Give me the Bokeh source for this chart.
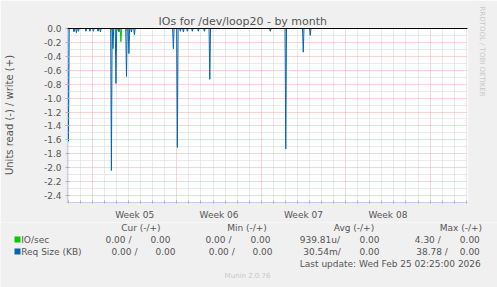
from bokeh.plotting import figure
from bokeh.models import Range1d, FixedTicker, Span, PrintfTickFormatter, Title
from bokeh.layouts import column
from bokeh.core.properties import value
from bokeh.embed import file_html
from bokeh.resources import INLINE

# ---------------- data ----------------
# x = days since Sun 2026-01-25 00:00
x_start, x_end = -2.07, 31.10
week_starts = [0, 7, 14, 21, 28]
week_labels = ["Week 05", "Week 06", "Week 07", "Week 08"]
y_ticks = [0.0, -0.2, -0.4, -0.6, -0.8, -1.0, -1.2, -1.4, -1.6, -1.8, -2.0, -2.2, -2.4]

# Req Size (KB), read (negated)
req_read_days = [-1.99, -1.53, -1.33, -1.16, -0.54, -0.21, 0.08, 0.46, 0.66,
                 1.57, 1.70, 1.95, 2.20, 2.82, 3.02, 3.23, 3.48,
                 6.71, 7.04, 7.29, 7.54, 7.87, 8.28, 8.78, 9.28, 9.73,
                 14.75, 16.03, 17.48, 18.06]
req_read_vals = [-1.62, -0.05, -0.06, -0.04, -0.04, -0.04, -0.04, -0.04, -0.05,
                 -2.04, -0.29, -0.79, -0.05, -0.69, -0.36, -0.05, -0.09,
                 -0.29, -1.71, -0.04, -0.05, -0.04, -0.04, -0.04, -0.04, -0.73,
                 -0.04, -1.73, -0.34, -0.10]
# IO/sec, read (negated)
io_read_days = [1.57, 2.03, 2.36, 2.82]
io_read_vals = [-0.02, -0.03, -0.19, -0.03]

series_names = ["IO/sec", "Req Size (KB)"]
series_colors = ["#00CC00", "#0066B3"]
cur_vals = [["0.00 /", "0.00"], ["0.00 /", "0.00"]]
min_vals = [["0.00 /", "0.00"], ["0.00 /", "0.00"]]
avg_vals = [["939.81u/", "0.00"], ["30.54m/", "0.00"]]
max_vals = [["4.30 /", "0.00"], ["38.78 /", "0.00"]]
headers = ["Cur (-/+)", "Min (-/+)", "Avg (-/+)", "Max (-/+)"]
title_text = "IOs for /dev/loop20 - by month"
ylabel_text = "Units read (-) / write (+)"
last_update = "Last update: Wed Feb 25 02:25:00 2026"
footer = "Munin 2.0.76"
side_text = "RRDTOOL / TOBI OETIKER"

# ---------------- helpers ----------------
HW = 0.06  # half-width of a one-sample spike (days)


def spike_series(days, vals):
    xs, ys = [x_start], [0.0]
    for d, v in zip(days, vals):
        xs += [d - HW, d, d + HW]
        ys += [0.0, v, 0.0]
    xs.append(x_end)
    ys.append(0.0)
    return xs, ys


W = 497
H1, H2 = 222, 65
L, R, T, B = 67, 30, 27, 19
Y0, Y1 = -2.5, 1.0 / 70.0

FONT = "DejaVu Sans"
TXT = "#555555"
LIGHT = "#C8C8C8"
AXISC = "#C8CCF0"
BG = "#F0F0F0"

p = figure(width=W, height=H1, output_backend="svg", toolbar_location=None,
           x_range=Range1d(x_start, x_end), y_range=Range1d(Y0, Y1),
           min_border_left=L, min_border_right=R, min_border_top=T, min_border_bottom=B)
p.frame_align = False
p.background_fill_color = "white"
p.border_fill_color = BG
p.outline_line_color = None

# title
p.title = Title(text=title_text, align="left", offset=91, standoff=0,
                text_font=FONT, text_font_size="11px", text_font_style="normal",
                text_color=TXT)
# side text
p.add_layout(Title(text=side_text, align="left", offset=-21, standoff=20,
                   text_font=FONT, text_font_size="7px", text_font_style="normal",
                   text_color=LIGHT), "right")

# grids
p.ygrid.ticker = FixedTicker(ticks=y_ticks, minor_ticks=[t - 0.1 for t in y_ticks])
p.ygrid.grid_line_color = "#F0A8A8"
p.ygrid.grid_line_dash = "1 1"
p.ygrid.minor_grid_line_color = "#D4D4D4"
p.ygrid.minor_grid_line_dash = "1 1"

all_days = list(range(-2, 32))
p.xgrid.ticker = FixedTicker(ticks=week_starts,
                             minor_ticks=[d for d in all_days if d not in week_starts])
p.xgrid.grid_line_color = "#F0A8A8"
p.xgrid.grid_line_dash = "1 1"
p.xgrid.minor_grid_line_color = "#D4D4D4"
p.xgrid.minor_grid_line_dash = "1 1"

# axes
label_pos = [w + 3.5 for w in week_starts[:4]]
p.xaxis.ticker = FixedTicker(ticks=label_pos, minor_ticks=all_days)
p.xaxis.major_label_overrides = {lp: lab for lp, lab in zip(label_pos, week_labels)}
p.xaxis.major_tick_line_color = None
p.xaxis.minor_tick_line_color = "#B0B0B0"
p.xaxis.minor_tick_in = 2
p.xaxis.minor_tick_out = 1
p.xaxis.axis_line_color = AXISC
p.xaxis.major_label_text_font = FONT
p.xaxis.major_label_text_font_size = "9px"
p.xaxis.major_label_text_color = TXT
p.xaxis.major_label_standoff = 1

p.yaxis.ticker = FixedTicker(ticks=y_ticks, minor_ticks=[t - 0.1 for t in y_ticks])
p.yaxis.formatter = PrintfTickFormatter(format="%.1f")
p.yaxis.major_tick_line_color = "#B0B0B0"
p.yaxis.major_tick_in = 2
p.yaxis.major_tick_out = 2
p.yaxis.minor_tick_line_color = "#D0D0D0"
p.yaxis.minor_tick_in = 1
p.yaxis.minor_tick_out = 1
p.yaxis.axis_line_color = AXISC
p.yaxis.major_label_text_font = FONT
p.yaxis.major_label_text_font_size = "9px"
p.yaxis.major_label_text_color = TXT
p.yaxis.major_label_standoff = 4
p.yaxis.axis_label = ylabel_text
p.yaxis.axis_label_text_font = FONT
p.yaxis.axis_label_text_font_size = "10px"
p.yaxis.axis_label_text_font_style = "normal"
p.yaxis.axis_label_text_color = TXT
p.yaxis.axis_label_standoff = 26

# data lines
rx, ry = spike_series(req_read_days, req_read_vals)
ix, iy = spike_series(io_read_days, io_read_vals)
p.line(rx, ry, line_color="#0066B3", line_width=1.0)
p.line(ix, iy, line_color="#00CC00", line_width=1.0)
p.add_layout(Span(location=0, dimension="width", line_color="black", line_width=1))

# ---------------- legend panel (pixel coordinates, y from page top) ----------------
top = H1
q = figure(width=W, height=H2, output_backend="svg", toolbar_location=None,
           x_range=Range1d(0, W), y_range=Range1d(top + H2, top),
           min_border=0, min_border_left=0, min_border_right=0,
           min_border_top=0, min_border_bottom=0)
q.frame_align = False
q.axis.visible = False
q.grid.visible = False
q.outline_line_color = None
q.background_fill_color = BG
q.border_fill_color = BG

tx, ty, tt = [], [], []
header_x = [120.7, 226.7, 333.3, 439.3]
for hx, h in zip(header_x, headers):
    tx.append(hx); ty.append(227); tt.append(h)
row_y = [239, 251]
col_x = [[105, 150, 205, 250, 299.3, 359, 414.3, 459.3],
         [111, 155, 208.3, 252, 302.7, 359, 415.7, 459.3]]
for i in range(2):
    tx.append(20.7); ty.append(row_y[i]); tt.append(series_names[i])
    vals = cur_vals[i] + min_vals[i] + avg_vals[i] + max_vals[i]
    for x_, v in zip(col_x[i], vals):
        tx.append(x_); ty.append(row_y[i]); tt.append(v)
tx.append(299.3); ty.append(263); tt.append(last_update)
q.text(x=tx, y=ty, text=tt, text_font=value(FONT), text_font_size="9px",
       text_color=TXT, text_baseline="middle", text_align="left")
q.text(x=[247], y=[275], text=[footer], text_font=value(FONT), text_font_size="7px",
       text_color=LIGHT, text_baseline="middle", text_align="center")
q.rect(x=[17, 17], y=[row_y[0], row_y[1]], width=6, height=6,
       fill_color=series_colors, line_color=None)

layout = column(p, q, spacing=0)
open("out.html", "w").write(file_html(layout, INLINE))
